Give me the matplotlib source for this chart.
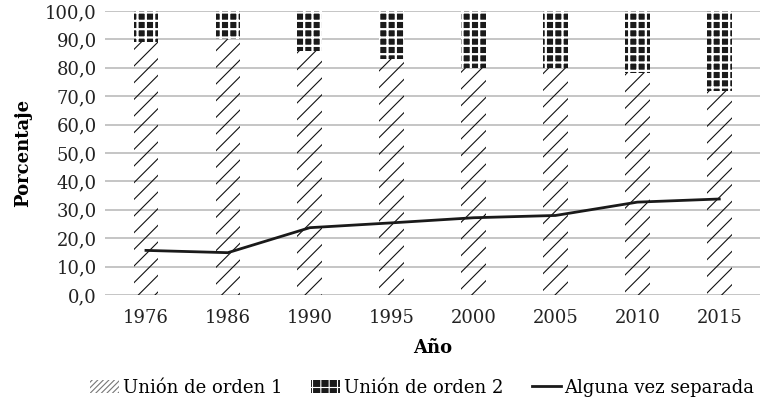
import numpy as np
import matplotlib.pyplot as plt
import matplotlib.patches as mpatches

years = ['1976', '1986', '1990', '1995', '2000', '2005', '2010', '2015']
orden1 = [89, 90, 86, 83, 80, 80, 78, 72]
orden2 = [100 - v for v in orden1]
separada = [15.7, 14.9, 23.7, 25.4, 27.2, 28.0, 32.7, 33.8]
yticks = np.arange(0, 101, 10)

plt.rcParams['font.family'] = 'DejaVu Serif'
plt.rcParams['hatch.linewidth'] = 0.8

fig = plt.figure(figsize=(7.61, 4.08), dpi=100)
ax = fig.add_axes([0.138, 0.277, 0.861, 0.696])

x = np.arange(len(years))
w = 0.3
b1 = ax.bar(x, orden1, w, color='none', edgecolor='#111111', linewidth=0,
            hatch='//', zorder=2)
b2 = ax.bar(x, orden2, w, bottom=orden1, color='#1a1a1a', edgecolor='white',
            linewidth=0, hatch='++', zorder=2)
for p in b2.patches:
    if hasattr(p, 'set_hatch_linewidth'):
        p.set_hatch_linewidth(1.6)
line, = ax.plot(x, separada, color='#1a1a1a', lw=2.0, zorder=3)

ax.set_xlim(-0.5, len(years) - 0.5)
ax.set_ylim(0, 100)
ax.set_yticks(yticks)
ax.set_yticklabels([('%.1f' % v).replace('.', ',') for v in yticks])
ax.set_xticks(x)
ax.set_xticklabels(years)
ax.tick_params(length=0, labelsize=13, colors='#222222')
ax.tick_params(axis='x', pad=10)
ax.tick_params(axis='y', pad=6)
ax.yaxis.grid(True, color='#b5b5b5', lw=1.1, zorder=0)
ax.set_axisbelow(True)
for s in ax.spines.values():
    s.set_visible(False)

ax.set_ylabel('Porcentaje', fontsize=13, fontweight='bold', labelpad=9)
ax.set_xlabel('Año', fontsize=13, fontweight='bold', labelpad=9)

h1 = mpatches.Patch(facecolor='none', edgecolor='#777777', linewidth=0, hatch='//////')
h2 = mpatches.Patch(facecolor='#1a1a1a', edgecolor='white', linewidth=0, hatch='++')
if hasattr(h2, 'set_hatch_linewidth'):
    h2.set_hatch_linewidth(1.6)
fig.legend(handles=[h1, h2, line],
           labels=['Unión de orden 1', 'Unión de orden 2', 'Alguna vez separada'],
           loc='lower center', ncol=3, frameon=False, fontsize=13,
           bbox_to_anchor=(0.555, -0.012), handlelength=1.6, handletextpad=0.2,
           columnspacing=1.6)

fig.savefig('out.png', dpi=100)
